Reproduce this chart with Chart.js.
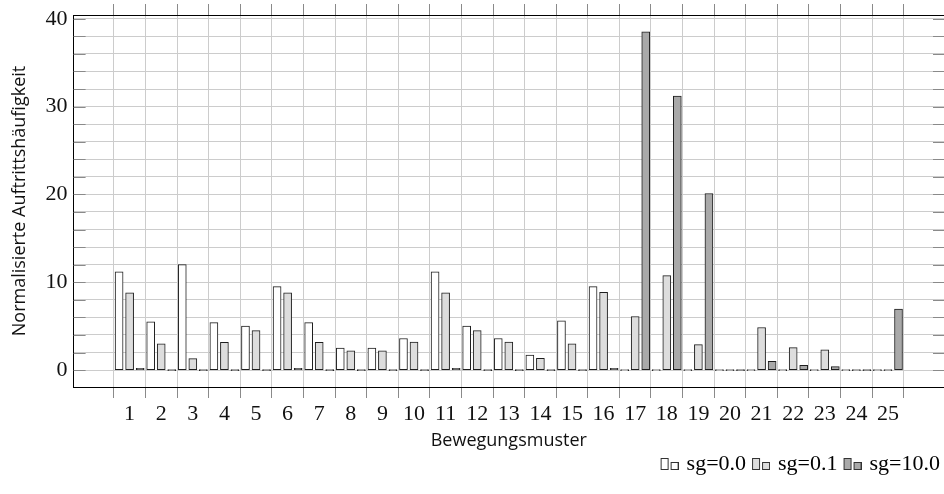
<!DOCTYPE html>
<html>
<head>
<meta charset="utf-8">
<script src="https://cdn.jsdelivr.net/npm/chart.js@4"></script>
<style>
html,body{margin:0;padding:0;background:#fff;}
#wrap{width:944px;height:494px;}
</style>
</head>
<body>
<div id="wrap"><canvas id="c" width="944" height="494"></canvas></div>
<script>
// ---- data ----
const categories = [1,2,3,4,5,6,7,8,9,10,11,12,13,14,15,16,17,18,19,20,21,22,23,24,25];
const seriesLabels = ['sg=0.0', 'sg=0.1', 'sg=10.0'];
const valuesSg00 = [11.2, 5.5, 12.0, 5.4, 5.0, 9.5, 5.4, 2.5, 2.5, 3.6, 11.2, 5.0, 3.6, 1.7, 5.6, 9.5, 0, 0, 0, 0, 0, 0, 0, 0, 0];
const valuesSg01 = [8.8, 3.0, 1.3, 3.15, 4.5, 8.8, 3.15, 2.2, 2.2, 3.2, 8.8, 4.5, 3.2, 1.35, 3.0, 8.85, 6.1, 10.75, 2.9, 0, 4.85, 2.55, 2.3, 0, 0];
const valuesSg10 = [0.2, 0, 0, 0, 0, 0.2, 0, 0, 0, 0, 0.2, 0, 0, 0, 0, 0.2, 38.5, 31.2, 20.1, 0, 1.0, 0.55, 0.4, 0, 6.95];
const yGridTicks = [0,2,4,6,8,10,12,14,16,18,20,22,24,26,28,30,32,34,36,38,40];
const yLabelTicks = [0,10,20,30,40];
const xBoundaryTicks = [0.5,1.5,2.5,3.5,4.5,5.5,6.5,7.5,8.5,9.5,10.5,11.5,12.5,13.5,14.5,15.5,16.5,17.5,18.5,19.5,20.5,21.5,22.5,23.5,24.5,25.5];

// ---- styles ----
const seriesValues = [valuesSg00, valuesSg01, valuesSg10];
const fills = ['#ffffff', '#dddddd', '#a9a9a9'];
const serif = 'Liberation Serif';
const sans = 'Open Sans';

function makeIcon(fill) {
  const c = document.createElement('canvas');
  c.width = 26; c.height = 12;
  const g = c.getContext('2d');
  const o = 8;
  g.fillStyle = fill; g.strokeStyle = '#333'; g.lineWidth = 1;
  g.fillRect(o + 0.5, 0.5, 7, 11); g.strokeRect(o + 0.5, 0.5, 7, 11);
  g.fillRect(o + 10.5, 4.5, 7, 7); g.strokeRect(o + 10.5, 4.5, 7, 7);
  return c;
}
const icons = fills.map(makeIcon);

const xTicksAll = xBoundaryTicks.concat(categories).sort((a, b) => a - b);
const isBoundary = v => !Number.isInteger(v);

const innerTicks = {
  id: 'innerTicks',
  beforeDatasetsDraw(chart) {
    const {ctx, chartArea: a, scales: {y}} = chart;
    ctx.save();
    ctx.strokeStyle = '#8a8a8a';
    ctx.lineWidth = 1;
    ctx.beginPath();
    for (const v of yGridTicks) {
      const py = Math.round(y.getPixelForValue(v)) + 0.5;
      ctx.moveTo(a.left, py); ctx.lineTo(a.left + 12, py);
      ctx.moveTo(a.right - 11, py); ctx.lineTo(a.right, py);
    }
    ctx.stroke();
    ctx.restore();
  }
};

const legendInset = {
  id: 'legendInset',
  afterLayout(chart) {
    if (chart.legend) { chart.legend.right -= 4; }
  }
};

const xMin = -0.773, xMax = 26.773;

new Chart(document.getElementById('c'), {
  type: 'bar',
  data: {
    datasets: seriesLabels.map((name, i) => ({
      label: name,
      data: categories.map((c, j) => ({x: c, y: seriesValues[i][j]})),
      backgroundColor: fills[i],
      borderColor: '#1e1e1e',
      borderWidth: 1,
      borderSkipped: false,
      minBarLength: 1,
      barThickness: 'flex',
      barPercentage: 0.76,
      categoryPercentage: 1.0
    }))
  },
  options: {
    responsive: false,
    animation: false,
    layout: {padding: {left: 0, right: -1, top: 4, bottom: 9}},
    plugins: {
      tooltip: {enabled: false},
      legend: {
        position: 'bottom',
        align: 'end',
        labels: {
          usePointStyle: true,
          pointStyleWidth: 20,
          padding: 1,
          color: '#111',
          font: {family: serif, size: 22},
          generateLabels: chart => chart.data.datasets.map((ds, i) => ({
            text: ds.label,
            pointStyle: icons[i],
            fillStyle: fills[i],
            strokeStyle: '#333',
            lineWidth: 0,
            hidden: false,
            datasetIndex: i
          }))
        }
      }
    },
    scales: {
      x: {
        type: 'linear',
        position: 'bottom',
        offset: false,
        min: xMin,
        max: xMax,
        afterBuildTicks: s => { s.ticks = xTicksAll.map(v => ({value: v})); },
        ticks: {
          autoSkip: false,
          maxRotation: 0,
          padding: 3,
          color: '#111',
          font: {family: serif, size: 22},
          callback: v => Number.isInteger(v) ? String(categories[v - 1]) : ''
        },
        grid: {
          offset: false,
          color: c => (c.tick && isBoundary(c.tick.value)) ? '#cccccc' : 'rgba(0,0,0,0)',
          tickColor: c => (c.tick && isBoundary(c.tick.value)) ? '#8a8a8a' : 'rgba(0,0,0,0)',
          tickLength: 11,
          drawTicks: true
        },
        border: {color: '#000', width: 1},
        title: {
          display: true,
          text: 'Bewegungsmuster',
          color: '#111',
          font: {family: sans, size: 18},
          padding: {top: 0, bottom: 0}
        }
      },
      x2: {
        type: 'linear',
        position: 'top',
        offset: false,
        min: xMin,
        max: xMax,
        afterBuildTicks: s => { s.ticks = xBoundaryTicks.map(v => ({value: v})); },
        ticks: {display: false},
        grid: {offset: false, drawOnChartArea: false, tickLength: 11, tickColor: '#8a8a8a'},
        border: {color: '#000', width: 1}
      },
      y: {
        type: 'linear',
        min: -1.925,
        max: 40.425,
        afterBuildTicks: s => { s.ticks = yGridTicks.map(v => ({value: v})); },
        ticks: {
          autoSkip: false,
          padding: 1,
          color: '#111',
          font: {family: serif, size: 22},
          callback: v => yLabelTicks.includes(v) ? String(v) : ''
        },
        grid: {color: '#cccccc', drawTicks: true, tickLength: 5, tickColor: 'rgba(0,0,0,0)'},
        border: {color: '#000', width: 1},
        title: {
          display: true,
          text: 'Normalisierte Auftrittshäufigkeit',
          color: '#111',
          font: {family: sans, size: 18},
          padding: {top: 9, bottom: 14}
        }
      }
    }
  },
  plugins: [innerTicks, legendInset]
});
</script>
</body>
</html>
